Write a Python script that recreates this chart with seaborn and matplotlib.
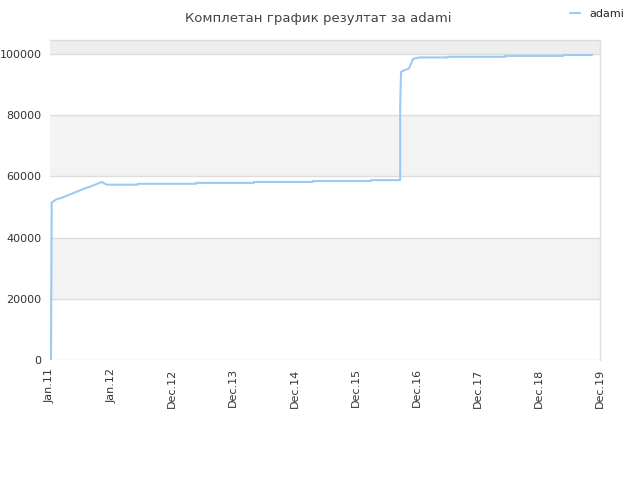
import matplotlib
matplotlib.use('Agg')
import matplotlib.pyplot as plt
import seaborn as sns

# data (x in tick positions, y in points)
tick_labels = ['Jan.11', 'Jan.12', 'Dec.12', 'Dec.13', 'Dec.14',
               'Dec.15', 'Dec.16', 'Dec.17', 'Dec.18', 'Dec.19']
x_pos = [0.016, 0.028, 0.11, 0.19, 0.35, 0.52, 0.70, 0.846, 0.933,
         1.435, 1.435, 2.39, 2.39, 3.34, 3.34, 4.30, 4.30, 5.25, 5.25,
         5.73, 5.73, 5.745, 5.81, 5.875, 5.94, 6.04, 6.51, 6.51,
         7.45, 7.45, 8.40, 8.40, 8.87]
score = [0, 51500, 52600, 53000, 54300, 55700, 57000, 58200, 57300,
         57300, 57600, 57600, 57900, 57900, 58200, 58200, 58500, 58500, 58800,
         58800, 82800, 94200, 94800, 95300, 98400, 98900, 98900, 99100,
         99100, 99400, 99400, 99700, 99700]
series_name = 'adami'

sns.set_style('white')
plt.rcParams['font.family'] = ['DejaVu Sans']

fig = plt.figure(figsize=(6.4, 4.8), dpi=100)
ax = fig.add_axes([50 / 640, 1 - 360 / 480, 550 / 640, 320 / 480])

ymax = 104600
# alternating background bands
ax.axhspan(20000, 40000, color='#f3f3f3', zorder=0, lw=0)
ax.axhspan(60000, 80000, color='#f3f3f3', zorder=0, lw=0)
ax.axhspan(100000, ymax, color='#eeeeee', zorder=0, lw=0)
for yv in range(0, 100001, 20000):
    ax.axhline(yv, color='#dddddd', lw=1, zorder=1)

sns.lineplot(x=x_pos, y=score, sort=False, estimator=None, ax=ax,
             color='#9ccaf4', lw=1.5, label=series_name, zorder=3)

ax.set_xlim(0, 9)
ax.set_ylim(0, ymax)
ax.set_xticks(range(len(tick_labels)))
ax.set_xticklabels(tick_labels, rotation=90, fontsize=8, color='#333333')
ax.set_yticks(range(0, 100001, 20000))
ax.set_yticklabels([str(v) for v in range(0, 100001, 20000)], fontsize=8, color='#333333')
ax.tick_params(length=0, pad=6)
for s in ax.spines.values():
    s.set_color('#dddddd')
    s.set_linewidth(1)
ax.spines['left'].set_visible(False)
ax.spines['bottom'].set_visible(False)

fig.text(0.497, 0.975, 'Комплетан график резултат за adami', ha='center', va='top',
         fontsize=9.5, color='#444444')
handles, labels = ax.get_legend_handles_labels()
ax.get_legend().remove()
fig.legend(handles, labels, loc='center left', bbox_to_anchor=(570 / 640, 1 - 14 / 480),
           frameon=False, fontsize=8, handlelength=0.9, handletextpad=0.8,
           borderpad=0, borderaxespad=0)

fig.savefig('out.png', dpi=100)
